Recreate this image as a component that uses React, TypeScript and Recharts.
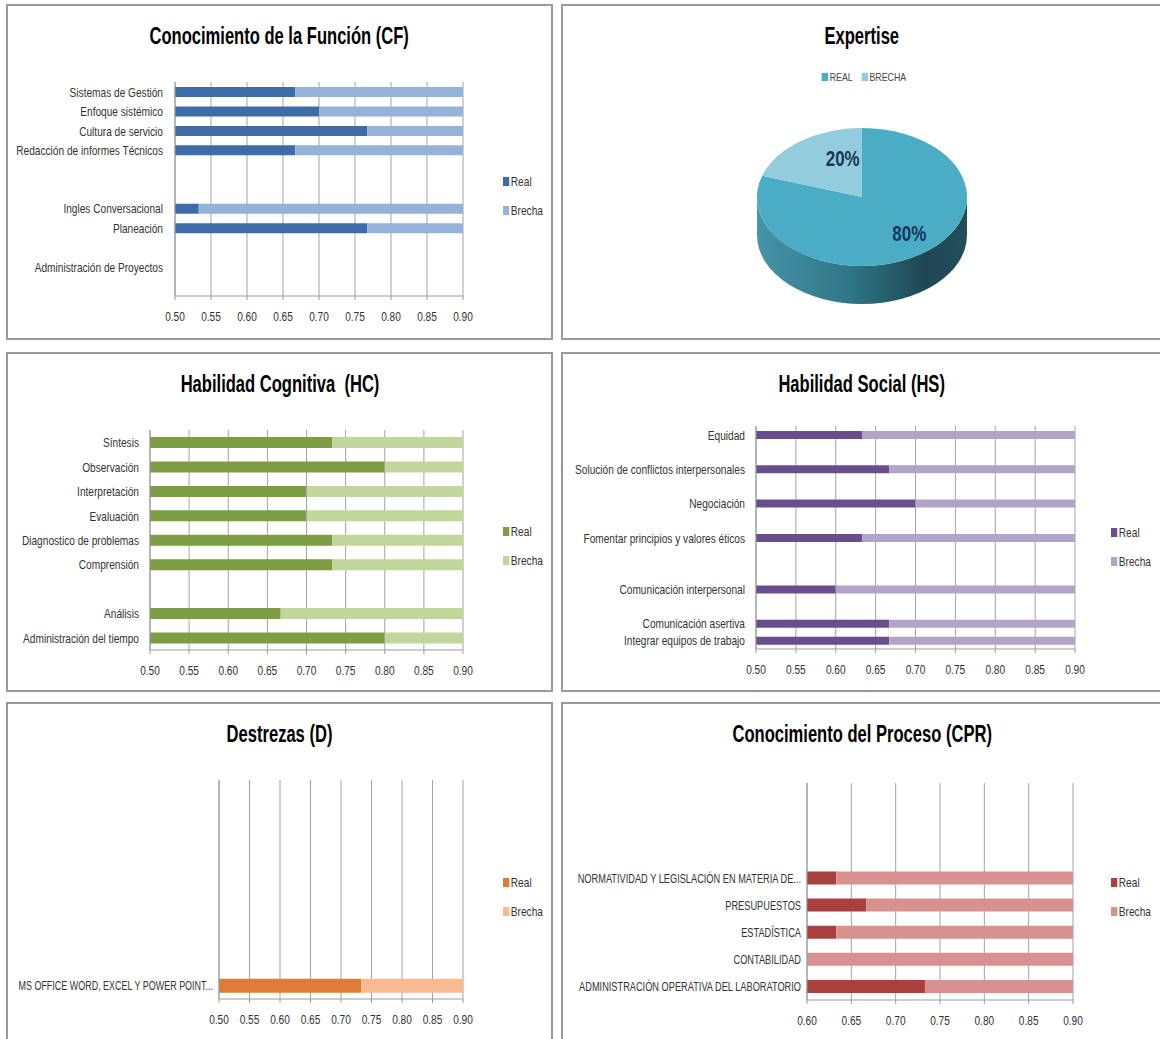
import React from 'react';
import { BarChart, Bar, XAxis, YAxis, CartesianGrid, Legend, PieChart, Pie, Cell } from 'recharts';

const FONT = '"Liberation Sans", Arial, sans-serif';
const SX = 0.78; // horizontal squeeze of the small text (the source uses a narrow font)

// Conocimiento de la Función (CF)
const cfLabels = ['Sistemas de Gestión', 'Enfoque sistémico', 'Cultura de servicio', 'Redacción de informes Técnicos', '', '', 'Ingles Conversacional', 'Planeación', '', 'Administración de Proyectos', ''];
const cfReal = [0.667, 0.7, 0.767, 0.667, 0, 0, 0.533, 0.767, 0, 0, 0];
const cfBrecha = [0.333, 0.3, 0.233, 0.333, 0, 0, 0.467, 0.233, 0, 0, 0];

// Habilidad Cognitiva (HC)
const hcLabels = ['Síntesis', 'Observación', 'Interpretación', 'Evaluación', 'Diagnostico de problemas', 'Comprensión', '', 'Análisis', 'Administración del tiempo'];
const hcReal = [0.733, 0.8, 0.7, 0.7, 0.733, 0.733, 0, 0.667, 0.8];
const hcBrecha = [0.267, 0.2, 0.3, 0.3, 0.267, 0.267, 0, 0.333, 0.2];

// Habilidad Social (HS)
const hsLabels = ['Equidad', '', 'Solución de conflictos interpersonales', '', 'Negociación', '', 'Fomentar principios y valores éticos', '', '', 'Comunicación interpersonal', '', 'Comunicación asertiva', 'Integrar equipos de trabajo'];
const hsReal = [0.633, 0, 0.667, 0, 0.7, 0, 0.633, 0, 0, 0.6, 0, 0.667, 0.667];
const hsBrecha = [0.367, 0, 0.333, 0, 0.3, 0, 0.367, 0, 0, 0.4, 0, 0.333, 0.333];

// Destrezas (D)
const dLabels = ['', '', '', '', '', '', '', 'MS OFFICE WORD, EXCEL Y POWER POINT...'];
const dReal = [0, 0, 0, 0, 0, 0, 0, 0.733];
const dBrecha = [0, 0, 0, 0, 0, 0, 0, 0.267];

// Conocimiento del Proceso (CPR)
const cprLabels = ['', '', '', 'NORMATIVIDAD Y LEGISLACIÓN EN MATERIA DE...', 'PRESUPUESTOS', 'ESTADÍSTICA', 'CONTABILIDAD', 'ADMINISTRACIÓN OPERATIVA DEL LABORATORIO'];
const cprReal = [0, 0, 0, 0.633, 0.667, 0.633, 0.5, 0.733];
const cprBrecha = [0, 0, 0, 0.367, 0.333, 0.367, 0.5, 0.267];

const ticks50 = [0.5, 0.55, 0.6, 0.65, 0.7, 0.75, 0.8, 0.85, 0.9];
const ticks60 = [0.6, 0.65, 0.7, 0.75, 0.8, 0.85, 0.9];
const barSeries = ['Real', 'Brecha'];

// Expertise
const pieNames = ['REAL', 'BRECHA'];
const pieValues = [80, 20];
const pieColors = ['#4BACC6', '#93CDDD'];

const TILT = 0.657;
const DEPTH = 38;
const RAD = Math.PI / 180;

const ept = (cx: number, cy: number, r: number, a: number) => [
  cx + r * Math.cos(a * RAD),
  cy - TILT * r * Math.sin(a * RAD),
];

const titleStyle: React.CSSProperties = {
  position: 'absolute',
  left: 0,
  top: 18,
  width: '100%',
  textAlign: 'center',
  fontFamily: FONT,
  fontWeight: 'bold',
  fontSize: 23,
  lineHeight: '28px',
  color: '#000',
  zIndex: 2,
};

const Title: React.FC<{ text: string }> = ({ text }) => (
  <div style={titleStyle}>
    <span style={{ display: 'inline-block', whiteSpace: 'pre', transform: 'scaleX(0.72)' }}>{text}</span>
  </div>
);

const YTick = (props: any) => {
  const { x, y, payload, labels, squeeze } = props;
  return (
    <g transform={`translate(${x},${y})`}>
      <text transform={`scale(${squeeze},1)`} textAnchor="end" dominantBaseline="central" fill="#333" fontSize={13} fontFamily={FONT}>
        {labels[payload.value]}
      </text>
    </g>
  );
};

const XTick = (props: any) => {
  const { x, y, payload } = props;
  return (
    <g transform={`translate(${x},${y})`}>
      <text transform={`scale(${SX},1)`} textAnchor="middle" dy="0.71em" fill="#333" fontSize={13} fontFamily={FONT}>
        {payload.value.toFixed(2)}
      </text>
    </g>
  );
};

const renderBarLegend = (props: any) => {
  const items = [...(props.payload || [])].sort((a: any, b: any) => barSeries.indexOf(a.value) - barSeries.indexOf(b.value));
  return (
    <div style={{ fontFamily: FONT, fontSize: 13, color: '#333', transform: `scaleX(${SX})`, transformOrigin: 'left center' }}>
      {items.map((entry: any) => (
        <div key={entry.value} style={{ display: 'flex', alignItems: 'center', height: 29 }}>
          <span style={{ display: 'inline-block', width: 8, height: 9, background: entry.color, marginRight: 2 }} />
          {entry.value}
        </div>
      ))}
    </div>
  );
};

const renderPieLegend = (props: any) => {
  const items = (props.payload || [])
    .filter((e: any) => pieColors.includes(e.color))
    .sort((a: any, b: any) => pieNames.indexOf(a.value) - pieNames.indexOf(b.value));
  return (
    <div style={{ display: 'flex', justifyContent: 'center', fontFamily: FONT, fontSize: 11, color: '#444' }}>
      <div style={{ display: 'flex', transform: 'scaleX(0.8)' }}>
        {items.map((entry: any) => (
          <span key={entry.value} style={{ display: 'flex', alignItems: 'center', marginRight: 11 }}>
            <span style={{ display: 'inline-block', width: 8, height: 8, background: entry.color, marginRight: 2 }} />
            {entry.value}
          </span>
        ))}
      </div>
    </div>
  );
};

interface BarPanelProps {
  x: number;
  y: number;
  w: number;
  h: number;
  title: string;
  labels: string[];
  real: number[];
  brecha: number[];
  ticks: number[];
  colors: [string, string];
  plot: { left: number; right: number; top: number; bottom: number };
  barSize: number;
  labelGap: number;
  labelSqueeze?: number;
  legend: { x: number; y: number };
}

const BarPanel: React.FC<BarPanelProps> = ({ x, y, w, h, title, labels, real, brecha, ticks, colors, plot, barSize, labelGap, labelSqueeze = SX, legend }) => {
  const data = labels.map((name, i) => ({ id: i, name, real: real[i], brecha: brecha[i] }));
  return (
    <div style={{ position: 'absolute', left: x, top: y, width: w, height: h, boxShadow: 'inset 0 0 0 2px #999' }}>
      <Title text={title} />
      <BarChart
        width={w}
        height={h}
        data={data}
        layout="vertical"
        margin={{ top: plot.top, right: w - plot.right, bottom: 0, left: 0 }}
      >
        <CartesianGrid horizontal={false} stroke="#A3A3A3" />
        <XAxis
          type="number"
          domain={[ticks[0], ticks[ticks.length - 1]]}
          ticks={ticks}
          allowDataOverflow
          height={h - plot.bottom}
          stroke="#9A9A9A"
          tickSize={4}
          tickMargin={12}
          tick={<XTick />}
        />
        <YAxis
          type="category"
          dataKey="id"
          width={plot.left}
          interval={0}
          tickLine={false}
          tickSize={0}
          tickMargin={labelGap}
          stroke="#9A9A9A"
          tick={<YTick labels={labels} squeeze={labelSqueeze} />}
        />
        <Legend
          layout="vertical"
          align="center"
          verticalAlign="middle"
          wrapperStyle={{ left: legend.x, top: legend.y, width: 80 }}
          content={renderBarLegend}
        />
        <Bar dataKey="real" name={barSeries[0]} stackId="a" fill={colors[0]} barSize={barSize} isAnimationActive={false} />
        <Bar dataKey="brecha" name={barSeries[1]} stackId="a" fill={colors[1]} barSize={barSize} isAnimationActive={false} />
      </BarChart>
    </div>
  );
};

const renderTop = (p: any) => {
  const { cx, cy, outerRadius: r, startAngle, endAngle, fill } = p;
  const [x1, y1] = ept(cx, cy, r, startAngle);
  const [x2, y2] = ept(cx, cy, r, endAngle);
  const large = Math.abs(startAngle - endAngle) > 180 ? 1 : 0;
  const sweep = startAngle > endAngle ? 1 : 0;
  return <path d={`M${cx},${cy} L${x1},${y1} A${r},${r * TILT} 0 ${large} ${sweep} ${x2},${y2} Z`} fill={fill} />;
};

const renderSide = (p: any) => {
  const { cx, cy, outerRadius: r, startAngle, endAngle } = p;
  const lo = Math.min(startAngle, endAngle);
  const hi = Math.max(startAngle, endAngle);
  const parts: number[][] = [];
  for (let n = -2; n <= 2; n++) {
    const a = Math.max(lo, -180 + 360 * n);
    const b = Math.min(hi, 360 * n);
    if (b > a) parts.push([a, b]);
  }
  return (
    <g>
      {parts.map(([a, b], i) => {
        const [xa, ya] = ept(cx, cy, r, a);
        const [xb, yb] = ept(cx, cy, r, b);
        const large = b - a > 180 ? 1 : 0;
        const d = `M${xb},${yb} A${r},${r * TILT} 0 ${large} 1 ${xa},${ya} L${xa},${ya + DEPTH} A${r},${r * TILT} 0 ${large} 0 ${xb},${yb + DEPTH} Z`;
        return <path key={i} d={d} fill="url(#pieSide)" />;
      })}
    </g>
  );
};

const renderPieLabel = (p: any) => {
  const { cx, cy, midAngle, outerRadius, percent } = p;
  const [lx, ly] = ept(cx, cy, outerRadius * 0.62, midAngle);
  const upper = Math.sin(midAngle * RAD) > 0;
  const dx = upper ? 19 : 9;
  const dy = upper ? -4 : 2;
  return (
    <g transform={`translate(${lx + dx},${ly + dy})`}>
      <text transform="scale(0.77,1)" textAnchor="middle" dominantBaseline="central" fill="#17375E" fontSize={22} fontWeight="bold" fontFamily={FONT}>
        {`${Math.round(percent * 100)}%`}
      </text>
    </g>
  );
};

const PiePanel: React.FC = () => {
  const data = pieNames.map((name, i) => ({ name, value: pieValues[i] }));
  return (
    <div style={{ position: 'absolute', left: 561, top: 4, width: 602, height: 336, boxShadow: 'inset 0 0 0 2px #999' }}>
      <Title text="Expertise" />
      <PieChart width={602} height={336} margin={{ top: 0, right: 0, bottom: 0, left: 0 }}>
        <defs>
          <linearGradient id="pieSide" x1="0" y1="0" x2="1" y2="0">
            <stop offset="0%" stopColor="#4694A7" />
            <stop offset="45%" stopColor="#2E7587" />
            <stop offset="80%" stopColor="#1E4752" />
            <stop offset="100%" stopColor="#234F5A" />
          </linearGradient>
        </defs>
        <Legend
          layout="horizontal"
          align="center"
          verticalAlign="middle"
          wrapperStyle={{ left: 0, top: 67, width: 614 }}
          content={renderPieLegend}
        />
        <Pie
          data={data}
          dataKey="value"
          nameKey="name"
          cx={301}
          cy={193}
          outerRadius={105}
          startAngle={90}
          endAngle={-270}
          stroke="none"
          legendType="none"
          shape={renderSide}
          isAnimationActive={false}
        />
        <Pie
          data={data}
          dataKey="value"
          nameKey="name"
          cx={301}
          cy={193}
          outerRadius={105}
          startAngle={90}
          endAngle={-270}
          stroke="none"
          shape={renderTop}
          label={renderPieLabel}
          labelLine={false}
          isAnimationActive={false}
        >
          {data.map((d, i) => (
            <Cell key={d.name} fill={pieColors[i]} />
          ))}
        </Pie>
      </PieChart>
    </div>
  );
};

export default function App() {
  return (
    <div style={{ position: 'absolute', left: 0, top: 0, width: 1160, height: 1039, background: '#fff', overflow: 'hidden' }}>
      <BarPanel
        x={6} y={4} w={547} h={336}
        title="Conocimiento de la Función (CF)"
        labels={cfLabels} real={cfReal} brecha={cfBrecha} ticks={ticks50}
        colors={['#3E6CA8', '#95B2D9']}
        plot={{ left: 169, right: 457, top: 78, bottom: 292 }}
        barSize={10} labelGap={12} legend={{ x: 497, y: 163 }}
      />
      <PiePanel />
      <BarPanel
        x={6} y={352} w={547} h={340}
        title="Habilidad Cognitiva  (HC)"
        labels={hcLabels} real={hcReal} brecha={hcBrecha} ticks={ticks50}
        colors={['#7C9D43', '#C2D69B']}
        plot={{ left: 144, right: 457, top: 78, bottom: 298 }}
        barSize={11} labelGap={11} legend={{ x: 497, y: 165 }}
      />
      <BarPanel
        x={561} y={352} w={602} h={340}
        title="Habilidad Social (HS)"
        labels={hsLabels} real={hsReal} brecha={hsBrecha} ticks={ticks50}
        colors={['#6A4D8C', '#B2A3C8']}
        plot={{ left: 195, right: 514, top: 74, bottom: 297 }}
        barSize={8} labelGap={11} legend={{ x: 550, y: 166 }}
      />
      <BarPanel
        x={6} y={702} w={547} h={345}
        title="Destrezas (D)"
        labels={dLabels} real={dReal} brecha={dBrecha} ticks={ticks50}
        colors={['#DE7C36', '#FBB990']}
        plot={{ left: 213, right: 457, top: 78, bottom: 297 }}
        barSize={14} labelGap={6} labelSqueeze={0.69} legend={{ x: 497, y: 166 }}
      />
      <BarPanel
        x={561} y={702} w={602} h={345}
        title="Conocimiento del Proceso (CPR)"
        labels={cprLabels} real={cprReal} brecha={cprBrecha} ticks={ticks60}
        colors={['#A8403D', '#D9918F']}
        plot={{ left: 246, right: 512, top: 81, bottom: 298 }}
        barSize={13} labelGap={6} labelSqueeze={0.71} legend={{ x: 550, y: 166 }}
      />
    </div>
  );
}
